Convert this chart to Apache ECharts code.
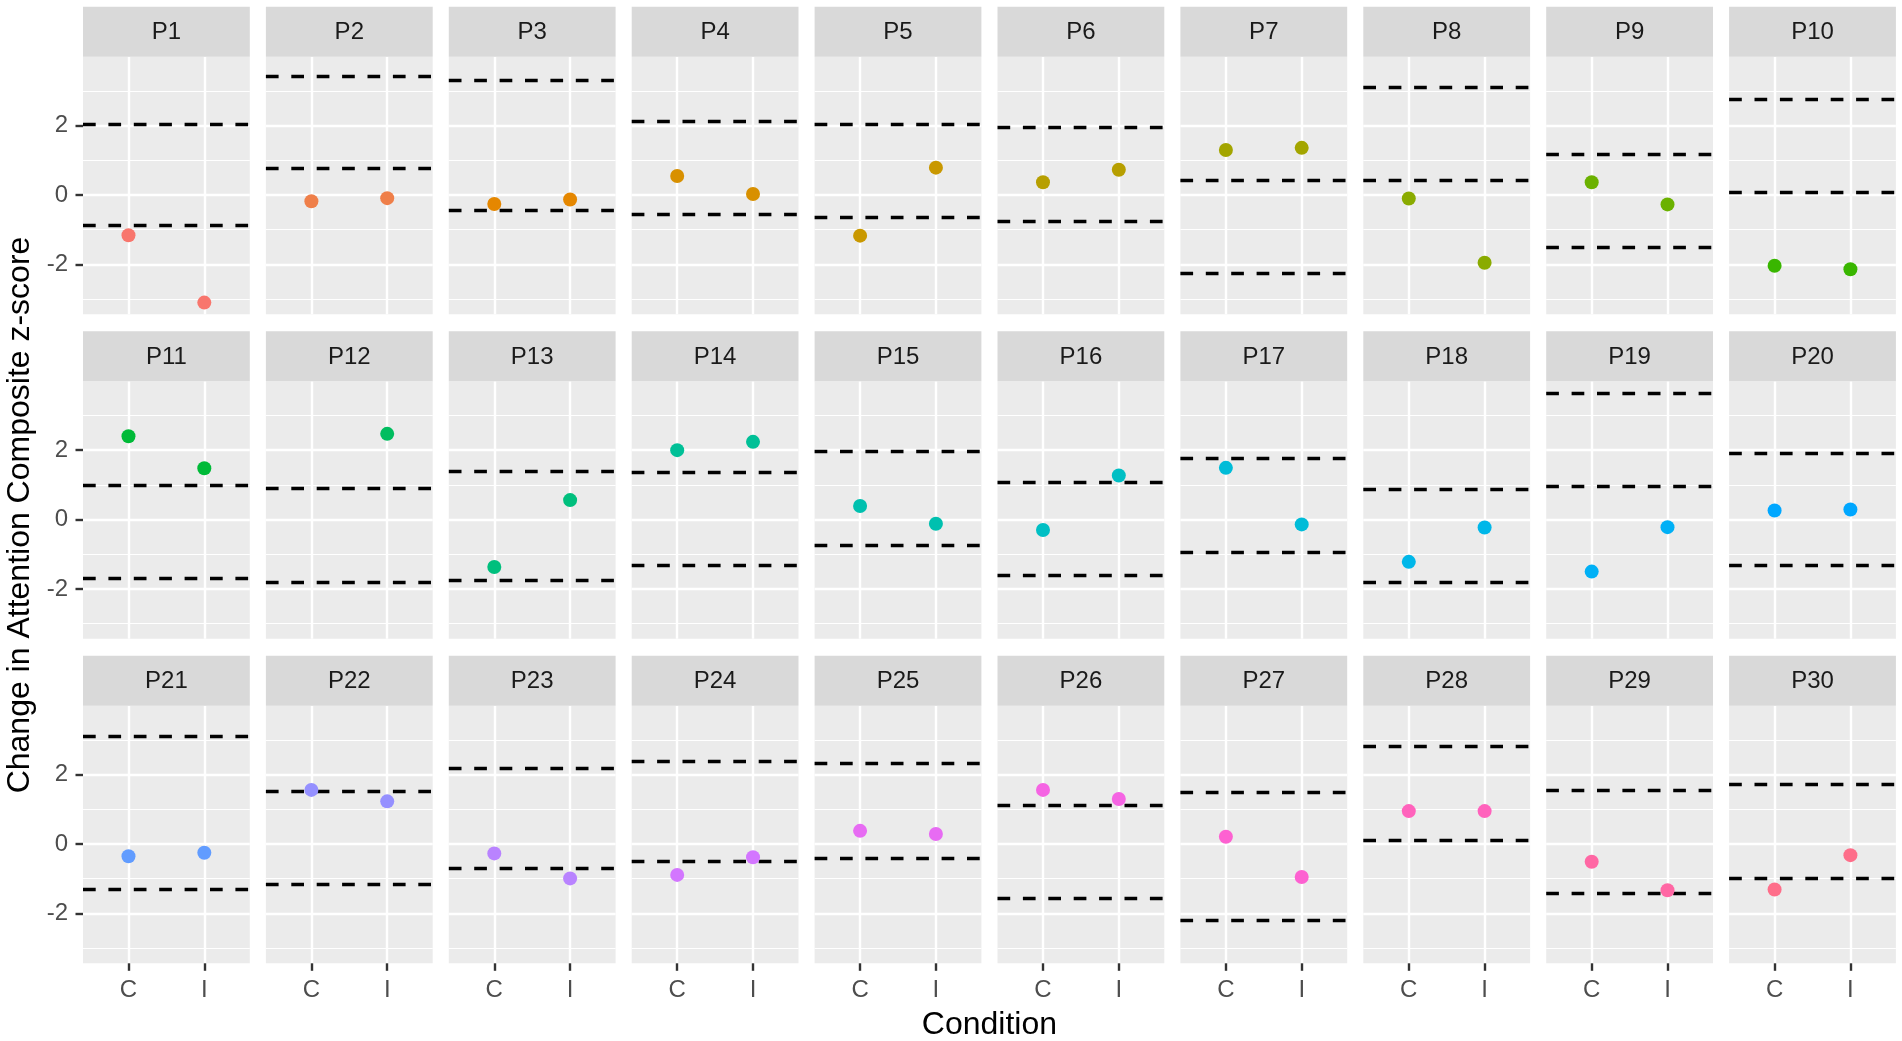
<!DOCTYPE html>
<html>
<head>
<meta charset="utf-8">
<script src="https://cdn.jsdelivr.net/npm/echarts@6/dist/echarts.min.js"></script>
<style>
html,body{margin:0;padding:0;background:#fff;}
#chart{width:1902px;height:1041px;}
</style>
</head>
<body>
<div id="chart"></div>
<script>
// ---- data ----
const panelNames = ['P1','P2','P3','P4','P5','P6','P7','P8','P9','P10',
  'P11','P12','P13','P14','P15','P16','P17','P18','P19','P20',
  'P21','P22','P23','P24','P25','P26','P27','P28','P29','P30'];
const conditionLabels = ['C', 'I'];
const scoreC = [-1.16, -0.18, -0.26, 0.55, -1.17, 0.37, 1.30, -0.10, 0.37, -2.04,
  2.40, null, -1.37, 2.00, 0.39, -0.30, 1.49, -1.22, -1.50, 0.26,
  -0.35, 1.56, -0.27, -0.89, 0.38, 1.56, 0.21, 0.95, -0.51, -1.31];
const scoreI = [-3.10, -0.09, -0.13, 0.03, 0.79, 0.73, 1.36, -1.95, -0.27, -2.14,
  1.48, 2.47, 0.56, 2.24, -0.12, 1.27, -0.14, -0.23, -0.22, 0.29,
  -0.25, 1.23, -0.99, -0.38, 0.29, 1.30, -0.95, 0.95, -1.33, -0.32];
const upperBound = [2.04, 3.42, 3.31, 2.14, 2.05, 1.95, 0.44, 3.12, 1.19, 2.76,
  1.00, 0.89, 1.38, 1.37, 1.96, 1.08, 1.76, 0.87, 3.65, 1.90,
  3.10, 1.53, 2.18, 2.40, 2.34, 1.12, 1.48, 2.81, 1.56, 1.71];
const lowerBound = [-0.87, 0.77, -0.44, -0.55, -0.64, -0.75, -2.25, 0.42, -1.51, 0.07,
  -1.69, -1.80, -1.74, -1.32, -0.73, -1.61, -0.93, -1.82, 0.97, -1.33,
  -1.29, -1.17, -0.71, -0.50, -0.42, -1.57, -2.20, 0.12, -1.43, -0.98];
const yMajorTicks = [-2, 0, 2];
const yMinorTicks = [-3, -1, 1, 3];
const xTicks = [1, 2];

// ---- ggplot-like hue palette ----
function hcl(h, c, l) {
  const Xn = 95.047, Yn = 100, Zn = 108.883;
  const Y = l > 8 ? Yn * Math.pow((l + 16) / 116, 3) : Yn * l / 903.3;
  const hr = h * Math.PI / 180;
  const U = c * Math.cos(hr), V = c * Math.sin(hr);
  const den = Xn + 15 * Yn + 3 * Zn;
  const un = 4 * Xn / den, vn = 9 * Yn / den;
  const u = U / (13 * l) + un, v = V / (13 * l) + vn;
  const X = 9 * Y * u / (4 * v);
  const Z = -X / 3 - 5 * Y + 3 * Y / v;
  const x = X / 100, y = Y / 100, z = Z / 100;
  const lin = [
    3.240479 * x - 1.537150 * y - 0.498535 * z,
    -0.969256 * x + 1.875992 * y + 0.041556 * z,
    0.055648 * x - 0.204043 * y + 1.057311 * z
  ];
  const hex = lin.map(t => {
    let g = t <= 0.0031308 ? 12.92 * t : 1.055 * Math.pow(t, 1 / 2.4) - 0.055;
    g = Math.max(0, Math.min(1, g));
    const s = Math.round(g * 255).toString(16);
    return s.length < 2 ? '0' + s : s;
  });
  return '#' + hex.join('');
}
const nP = panelNames.length;
const colors = panelNames.map((_, i) => hcl(15 + 360 * i / nP, 100, 65));

// ---- layout ----
const NCOL = 10;
const LEFT0 = 83, PW = 166.8, GAPX = 16.1;
const TOP0 = 56.7, PH = 257.6, ROWPITCH = 324.5, STRIP = 50;
const FONT = '"Liberation Sans", Arial, Helvetica, sans-serif';

// y range as ggplot: data range + 5% expansion
const allVals = [].concat(scoreC, scoreI, upperBound, lowerBound).filter(v => v !== null);
const dMin = Math.min.apply(null, allVals), dMax = Math.max.apply(null, allVals);
const yMin = dMin - 0.05 * (dMax - dMin), yMax = dMax + 0.05 * (dMax - dMin);

const grids = [], xAxes = [], yAxes = [], series = [], graphics = [];
const nRows = Math.ceil(nP / NCOL);

for (let i = 0; i < nP; i++) {
  const r = Math.floor(i / NCOL), c = i % NCOL;
  const left = LEFT0 + c * (PW + GAPX);
  const top = TOP0 + r * ROWPITCH;
  grids.push({ left: left, top: top, width: PW, height: PH, show: true,
    backgroundColor: '#EBEBEB', borderWidth: 0, containLabel: false });
  const bottomRow = r === nRows - 1;
  const firstCol = c === 0;
  xAxes.push({
    type: 'value', gridIndex: i, min: 0.4, max: 2.6,
    axisLine: { show: false, onZero: false },
    axisTick: { show: bottomRow, customValues: xTicks, length: 7.5, lineStyle: { color: '#333333', width: 2.4 } },
    axisLabel: { show: bottomRow, customValues: xTicks, margin: 15, color: '#4D4D4D', fontSize: 24, fontFamily: FONT,
      formatter: v => conditionLabels[Math.round(v) - 1] },
    splitLine: { show: true, lineStyle: { color: '#FFFFFF', width: 2.4 } }
  });
  yAxes.push({
    type: 'value', gridIndex: i, min: yMin, max: yMax,
    axisLine: { show: false, onZero: false },
    axisTick: { show: firstCol, customValues: yMajorTicks, length: 7.5, lineStyle: { color: '#333333', width: 2.4 } },
    axisLabel: { show: firstCol, customValues: yMajorTicks, margin: 15, color: '#4D4D4D', fontSize: 24, fontFamily: FONT },
    splitLine: { show: true, lineStyle: { color: '#FFFFFF', width: 2.4 } }
  });
  const mlData = yMinorTicks.map(v => ({ yAxis: v, lineStyle: { color: '#FFFFFF', width: 1.2, type: 'solid' } }))
    .concat([upperBound[i], lowerBound[i]].map(v => ({ yAxis: v, lineStyle: { color: '#000000', width: 3.3, type: [12.7, 12.7] } })));
  series.push({
    type: 'scatter', xAxisIndex: i, yAxisIndex: i, z: 3,
    symbol: 'circle', symbolSize: 14,
    itemStyle: { color: colors[i], opacity: 1 },
    data: [[1, scoreC[i]], [2, scoreI[i]]].filter(d => d[1] !== null),
    silent: true,
    markLine: { silent: true, z: 1, symbol: ['none', 'none'], label: { show: false },
      emphasis: { disabled: true }, animation: false, data: mlData }
  });
  graphics.push({ type: 'rect', left: left, top: top - STRIP, z: 10,
    shape: { width: PW, height: STRIP }, style: { fill: '#D9D9D9' }, silent: true });
  graphics.push({ type: 'text', x: left + PW / 2, y: top - STRIP / 2 + 1, z: 11,
    style: { text: panelNames[i], fill: '#1A1A1A', font: '24px ' + FONT, textAlign: 'center', textVerticalAlign: 'middle' }, silent: true });
}
const panelsRight = LEFT0 + NCOL * PW + (NCOL - 1) * GAPX;
graphics.push({ type: 'text', x: (LEFT0 + panelsRight) / 2, y: 1025, z: 11,
  style: { text: 'Condition', fill: '#000000', font: '32px ' + FONT, textAlign: 'center', textVerticalAlign: 'middle' }, silent: true });
graphics.push({ type: 'text', x: 20, y: 515, rotation: Math.PI / 2, z: 11,
  style: { text: 'Change in Attention Composite z-score', fill: '#000000', font: '32px ' + FONT, textAlign: 'center', textVerticalAlign: 'middle' }, silent: true });

const chart = echarts.init(document.getElementById('chart'), null, { renderer: 'canvas' });
chart.setOption({
  animation: false,
  backgroundColor: '#FFFFFF',
  grid: grids, xAxis: xAxes, yAxis: yAxes, series: series,
  graphic: graphics
});
</script>
</body>
</html>
